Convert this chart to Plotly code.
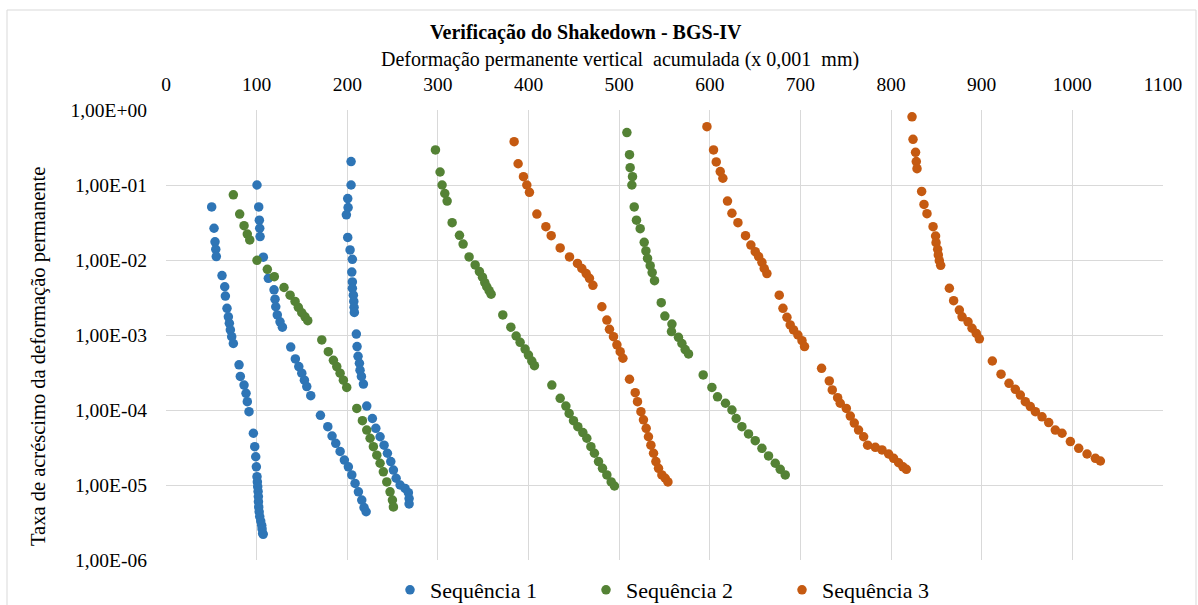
import plotly.graph_objects as go

# ---------------- data ----------------
series_names = ["Sequência 1", "Sequência 2", "Sequência 3"]

# Sequência 1 (three load stages)
s1a_x = [50.4, 53.0, 54.1, 54.9, 55.5, 61.8, 64.8, 65.5, 67.3, 68.8, 69.9, 71.0, 72.5, 74.3,
         80.6, 82.0, 86.1, 88.3, 89.7, 91.6, 96.4, 97.9, 99.0, 99.7, 100.4, 100.8, 101.2, 101.6,
         101.9, 102.0, 102.3, 102.8, 103.4, 104.5, 105.6, 106.0, 106.7, 107.2]
s1a_y = [5.1e-2, 2.65e-2, 1.75e-2, 1.39e-2, 1.11e-2, 6.2e-3, 4.4e-3, 3.3e-3, 2.27e-3, 1.75e-3,
         1.43e-3, 1.17e-3, 9.5e-4, 7.7e-4, 4.0e-4, 2.8e-4, 2.15e-4, 1.67e-4, 1.29e-4, 9.5e-5,
         4.9e-5, 3.24e-5, 2.38e-5, 1.75e-5, 1.29e-5, 1.1e-5, 9.5e-6, 8.2e-6, 7.0e-6, 6.0e-6,
         5.1e-6, 4.4e-6, 3.8e-6, 3.3e-6, 2.9e-6, 2.6e-6, 2.27e-6, 2.2e-6]
s1b_x = [100.4, 102.3, 103.0, 103.4, 103.8, 107.4, 112.9, 119.2, 120.3, 121.1, 122.8, 125.8, 128.4,
         137.6, 142.7, 146.5, 149.8, 152.7, 155.3, 159.7, 170.4, 178.5, 183.2, 187.3, 192.1, 196.8,
         201.2, 205.0, 208.6, 212.3, 216.0, 218.5, 220.8]
s1b_y = [1.0e-1, 5.1e-2, 3.4e-2, 2.65e-2, 2.05e-2, 1.09e-2, 5.7e-3, 4.0e-3, 3.0e-3, 2.38e-3, 1.85e-3,
         1.5e-3, 1.27e-3, 6.9e-4, 4.8e-4, 3.8e-4, 3.1e-4, 2.5e-4, 2.05e-4, 1.55e-4, 8.5e-5, 6.0e-5,
         4.5e-5, 3.6e-5, 2.8e-5, 2.15e-5, 1.75e-5, 1.36e-5, 1.05e-5, 8.1e-6, 6.3e-6, 5.0e-6, 4.4e-6]
s1c_x = [204.2, 204.2, 200.5, 200.9, 199.0, 200.5, 203.1, 205.6, 205.0, 205.6, 205.6, 206.7, 207.2,
         207.5, 207.8, 210.0, 210.8, 211.9, 213.4, 214.1, 215.6, 217.8, 221.5, 227.7, 231.5, 236.2,
         240.6, 244.3, 248.0, 250.9, 253.9, 258.3, 263.8, 267.4, 268.2, 268.2]
s1c_y = [2.05e-1, 1.0e-1, 6.6e-2, 5.0e-2, 4.0e-2, 2.0e-2, 1.36e-2, 1.02e-2, 6.9e-3, 5.1e-3, 4.2e-3,
         3.4e-3, 2.8e-3, 2.34e-3, 2.0e-3, 1.03e-3, 7.0e-4, 5.2e-4, 4.2e-4, 3.4e-4, 2.8e-4, 2.22e-4,
         1.13e-4, 7.7e-5, 5.7e-5, 4.4e-5, 3.4e-5, 2.65e-5, 2.05e-5, 1.58e-5, 1.23e-5, 1.0e-5, 9.0e-6,
         7.9e-6, 6.6e-6, 5.6e-6]

# Sequência 2
s2a_x = [74.3, 81.3, 86.1, 89.7, 92.4, 100.4, 111.8, 119.5, 130.2, 136.9, 142.4, 146.0, 149.8, 153.4,
         156.4, 171.9, 179.1, 184.7, 188.4, 192.1, 195.7, 199.4, 210.5, 216.7, 221.5, 225.2, 228.8,
         232.6, 236.2, 239.8, 243.6, 247.2, 249.8, 250.9]
s2a_y = [7.4e-2, 4.1e-2, 2.87e-2, 2.22e-2, 1.85e-2, 9.9e-3, 7.5e-3, 6.0e-3, 4.3e-3, 3.4e-3, 2.8e-3,
         2.34e-3, 1.98e-3, 1.75e-3, 1.55e-3, 8.6e-4, 6.0e-4, 4.6e-4, 3.8e-4, 3.1e-4, 2.5e-4, 2.0e-4,
         1.05e-4, 7.2e-5, 5.4e-5, 4.2e-5, 3.24e-5, 2.5e-5, 1.95e-5, 1.5e-5, 1.1e-5, 8.1e-6, 6.3e-6,
         5.1e-6]
s2b_x = [297.3, 302.4, 304.6, 307.6, 310.2, 315.7, 323.8, 327.8, 334.4, 341.1, 345.8, 349.2, 351.7,
         353.9, 356.5, 358.7, 371.6, 380.5, 386.3, 390.7, 396.2, 399.9, 403.6, 406.5, 425.7, 434.9,
         441.2, 444.8, 449.6, 454.4, 459.9, 464.3, 468.8, 472.7, 477.2, 481.6, 486.4, 491.2, 494.8]
s2b_y = [2.93e-1, 1.49e-1, 1.0e-1, 7.7e-2, 6.1e-2, 3.15e-2, 2.13e-2, 1.63e-2, 1.1e-2, 8.6e-3, 7.0e-3,
         5.9e-3, 5.0e-3, 4.4e-3, 3.9e-3, 3.5e-3, 1.85e-3, 1.27e-3, 9.7e-4, 8.0e-4, 6.5e-4, 5.4e-4,
         4.5e-4, 3.9e-4, 2.15e-4, 1.43e-4, 1.13e-4, 9.0e-5, 7.2e-5, 6.0e-5, 5.0e-5, 4.2e-5, 3.24e-5,
         2.65e-5, 2.05e-5, 1.67e-5, 1.36e-5, 1.1e-5, 9.7e-6]
s2c_x = [508.5, 511.4, 512.1, 514.7, 514.0, 516.6, 519.1, 523.2, 527.6, 529.5, 531.3, 534.2, 536.4,
         539.0, 546.4, 550.4, 558.2, 557.7, 565.4, 569.2, 572.8, 576.5, 592.7, 602.3, 608.5, 617.3,
         624.4, 629.1, 635.4, 642.7, 650.1, 657.5, 664.8, 672.2, 677.7, 683.2]
s2c_y = [5.0e-1, 2.54e-1, 1.7e-1, 1.29e-1, 1.0e-1, 5.1e-2, 3.4e-2, 2.62e-2, 1.72e-2, 1.32e-2, 1.05e-2,
         8.4e-3, 6.8e-3, 5.3e-3, 2.7e-3, 1.79e-3, 1.4e-3, 1.11e-3, 9.3e-4, 7.7e-4, 6.4e-4, 5.6e-4,
         2.93e-4, 2.0e-4, 1.5e-4, 1.23e-4, 1.0e-4, 7.7e-5, 6.0e-5, 4.8e-5, 3.9e-5, 3.08e-5, 2.44e-5,
         1.95e-5, 1.62e-5, 1.36e-5]

# Sequência 3
s3a_x = [384.1, 388.5, 394.4, 398.1, 401.0, 409.2, 419.1, 425.0, 434.9, 445.2, 454.0, 458.8, 463.6,
         467.2, 471.0, 480.9, 486.4, 489.3, 493.7, 497.5, 501.1, 504.1, 511.4, 517.7, 520.2, 524.0,
         526.8, 529.8, 532.3, 535.0, 537.9, 540.5, 543.4, 547.1, 550.8, 553.8]
s3a_y = [3.78e-1, 1.92e-1, 1.29e-1, 1.0e-1, 8.0e-2, 4.1e-2, 2.78e-2, 2.11e-2, 1.45e-2, 1.1e-2, 9.0e-3,
         7.7e-3, 6.6e-3, 5.7e-3, 4.6e-3, 2.38e-3, 1.58e-3, 1.19e-3, 9.5e-4, 7.4e-4, 6.0e-4, 4.9e-4,
         2.57e-4, 1.7e-4, 1.29e-4, 9.5e-5, 7.4e-5, 5.7e-5, 4.4e-5, 3.4e-5, 2.65e-5, 2.05e-5, 1.67e-5,
         1.36e-5, 1.23e-5, 1.1e-5]
s3b_x = [596.8, 604.1, 607.1, 611.5, 614.4, 619.5, 624.4, 631.0, 639.4, 645.3, 650.1, 653.8, 657.5,
         660.0, 663.0, 676.6, 680.7, 685.1, 688.7, 692.4, 697.2, 701.7, 704.5, 723.3, 731.8, 735.1,
         741.0, 743.9, 750.6, 755.0, 759.4, 764.1, 769.7, 774.1, 782.6, 790.0, 797.3, 802.8, 808.3,
         813.1, 816.8]
s3b_y = [6.0e-1, 2.93e-1, 2.03e-1, 1.51e-1, 1.23e-1, 6.1e-2, 4.2e-2, 3.15e-2, 2.11e-2, 1.58e-2, 1.29e-2,
         1.11e-2, 9.3e-3, 7.7e-3, 6.6e-3, 3.4e-3, 2.27e-3, 1.72e-3, 1.36e-3, 1.17e-3, 1.0e-3, 8.4e-4,
         7.0e-4, 3.6e-4, 2.44e-4, 1.85e-4, 1.46e-4, 1.23e-4, 1.05e-4, 8.3e-5, 6.7e-5, 5.4e-5, 4.4e-5,
         3.4e-5, 3.18e-5, 2.93e-5, 2.59e-5, 2.27e-5, 1.98e-5, 1.75e-5, 1.62e-5]
s3c_x = [823.1, 824.2, 827.0, 827.8, 828.6, 833.7, 836.3, 839.6, 846.3, 849.1, 849.6, 851.4, 852.1,
         853.2, 854.7, 864.3, 869.0, 875.3, 878.3, 884.9, 889.3, 894.0, 897.4, 911.7, 921.3, 930.1,
         937.1, 942.6, 948.1, 953.6, 959.2, 966.5, 973.9, 981.2, 988.6, 997.8, 1007.0, 1016.2,
         1025.4, 1030.9]
s3c_y = [8.1e-1, 4.07e-1, 2.73e-1, 2.05e-1, 1.65e-1, 8.2e-2, 5.5e-2, 4.15e-2, 2.78e-2, 2.09e-2, 1.7e-2,
         1.39e-2, 1.17e-2, 9.8e-3, 8.5e-3, 4.2e-3, 2.87e-3, 2.15e-3, 1.75e-3, 1.5e-3, 1.23e-3, 1.05e-3,
         8.9e-4, 4.5e-4, 3.0e-4, 2.27e-4, 1.89e-4, 1.58e-4, 1.29e-4, 1.11e-4, 9.5e-5, 8.1e-5, 6.8e-5,
         5.4e-5, 4.9e-5, 3.8e-5, 3.08e-5, 2.59e-5, 2.27e-5, 2.09e-5]

x_ticks = [0, 100, 200, 300, 400, 500, 600, 700, 800, 900, 1000, 1100]
y_ticks = [1e0, 1e-1, 1e-2, 1e-3, 1e-4, 1e-5, 1e-6]
y_tick_text = ["1,00E+00", "1,00E-01", "1,00E-02", "1,00E-03", "1,00E-04", "1,00E-05", "1,00E-06"]

title_text = "Verificação do Shakedown - BGS-IV"
x_title = "Deformação permanente vertical  acumulada (x 0,001  mm)"
y_title = "Taxa de acréscimo da deformação permanente"

# ---------------- figure ----------------
colors = ["#2E75B6", "#548235", "#C55A11"]
xs = [s1a_x + s1b_x + s1c_x, s2a_x + s2b_x + s2c_x, s3a_x + s3b_x + s3c_x]
ys = [s1a_y + s1b_y + s1c_y, s2a_y + s2b_y + s2c_y, s3a_y + s3b_y + s3c_y]

FONT = "Liberation Serif, Times New Roman, serif"
TICK = 19.5

L, R, T, B = 166, 1163, 110, 560
W, H = 1198, 605


def px_x(px):
    return (px - L) / (R - L)


def px_y(py):
    return (B - py) / (B - T)


fig = go.Figure()
for name, c, x, y in zip(series_names, colors, xs, ys):
    fig.add_trace(go.Scatter(x=x, y=y, mode="markers", name=name,
                             marker=dict(color=c, size=9.5, line=dict(width=0))))

fig.update_layout(
    width=W, height=H,
    margin=dict(l=L, r=W - R, t=T, b=H - B, autoexpand=False),
    paper_bgcolor="white", plot_bgcolor="white",
    font=dict(family=FONT, size=TICK, color="#000000"),
    showlegend=True,
    legend=dict(orientation="h", x=px_x(390), xanchor="left", y=px_y(590), yanchor="middle",
                font=dict(family=FONT, size=22, color="#000000"),
                entrywidth=151, entrywidthmode="pixels", itemwidth=30,
                bgcolor="rgba(0,0,0,0)"),
    xaxis=dict(side="top", range=[0, 1100], tickvals=x_ticks, ticktext=[str(v) for v in x_ticks],
               showgrid=True, gridcolor="#D9D9D9", gridwidth=1, zeroline=False,
               showline=False, ticks="", ticklabelstandoff=14,
               tickfont=dict(family=FONT, size=TICK)),
    yaxis=dict(type="log", range=[-6, 0], tickvals=y_ticks, ticktext=y_tick_text,
               showgrid=True, gridcolor="#D9D9D9", gridwidth=1, zeroline=False,
               showline=False, ticks="", ticklabelstandoff=18,
               tickfont=dict(family=FONT, size=TICK)),
    annotations=[
        dict(text="<b>" + title_text + "</b>", x=px_x(586), y=px_y(32),
             xref="paper", yref="paper", xanchor="center", yanchor="middle",
             showarrow=False, font=dict(family=FONT, size=20)),
        dict(text=x_title, x=px_x(620), y=px_y(60),
             xref="paper", yref="paper", xanchor="center", yanchor="middle",
             showarrow=False, font=dict(family=FONT, size=20)),
        dict(text=y_title, x=px_x(38), y=px_y(357), textangle=-90,
             xref="paper", yref="paper", xanchor="center", yanchor="middle",
             showarrow=False, font=dict(family=FONT, size=20.5)),
    ],
)

# outer chart border
fig.add_shape(type="rect", xref="paper", yref="paper",
              x0=px_x(7), x1=px_x(1196), y0=px_y(640), y1=px_y(10),
              line=dict(color="#D9D9D9", width=1), layer="below")

fig.write_html("out.html", config={"displayModeBar": False},
               post_script="document.body.style.margin='0';")
